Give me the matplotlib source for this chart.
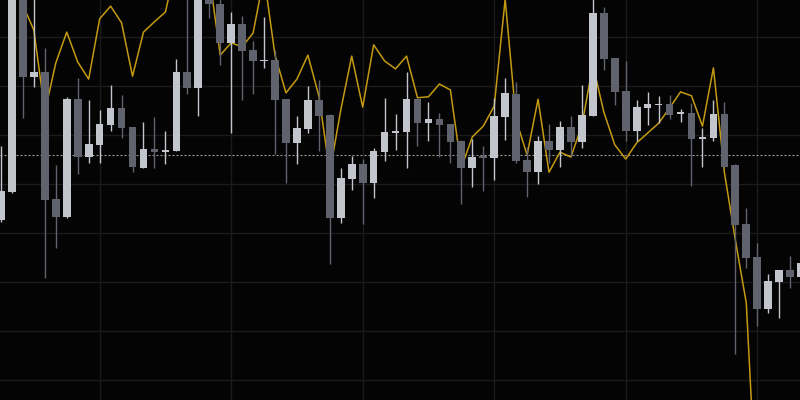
import matplotlib

matplotlib.use("Agg")
import matplotlib.pyplot as plt
import numpy as np

# OHLC values of the candles
opens = [
    132.7, 138.4, 180.0, 161.8, 162.9, 136.9, 133.3, 157.3, 145.5, 148.0,
    152.0, 155.5, 151.6, 143.3, 147.1, 146.5, 146.7, 162.9, 159.6, 179.2,
    176.7, 168.8, 172.7, 167.3, 165.1, 165.3, 157.3, 148.4, 151.2, 157.1,
    154.1, 133.1, 141.0, 144.1, 140.2, 146.5, 150.4, 150.6, 157.3, 152.4,
    153.3, 152.2, 148.8, 143.3, 145.7, 145.3, 153.7, 158.4, 144.9, 142.4,
    148.8, 146.9, 151.6, 148.6, 153.9, 174.9, 165.7, 159.0, 150.8, 155.5,
    156.1, 156.3, 154.3, 154.5, 149.2, 149.4, 154.3, 143.9, 131.8, 125.1,
    114.5, 120.0, 122.4, 121.0,
]
highs = [
    147.8, 180.4, 180.6, 178.6, 167.8, 143.9, 157.8, 161.6, 157.1, 155.1,
    160.2, 158.2, 151.7, 152.7, 153.7, 150.8, 165.5, 178.6, 179.6, 179.4,
    178.0, 175.1, 174.3, 169.2, 174.1, 167.3, 157.4, 153.9, 160.0, 161.2,
    154.2, 143.3, 145.7, 145.1, 147.3, 157.6, 154.3, 162.9, 157.4, 156.7,
    154.5, 152.3, 148.9, 149.2, 147.8, 157.6, 161.6, 160.8, 147.6, 149.8,
    152.2, 152.9, 153.9, 160.2, 178.2, 176.1, 165.8, 165.1, 157.1, 158.8,
    158.0, 158.2, 155.3, 156.5, 151.4, 157.1, 156.7, 144.0, 135.1, 128.0,
    121.6, 122.5, 125.3, 124.5,
]
lows = [
    132.2, 138.2, 153.5, 159.8, 120.8, 126.9, 133.1, 142.0, 144.3, 144.3,
    150.8, 149.4, 142.4, 143.3, 143.3, 144.1, 146.7, 158.4, 153.9, 173.9,
    164.3, 150.4, 157.1, 158.4, 163.7, 146.1, 140.2, 144.1, 150.4, 146.7,
    123.7, 132.0, 138.8, 131.8, 137.1, 144.7, 146.9, 143.3, 147.8, 148.8,
    145.5, 144.3, 135.9, 139.4, 138.6, 140.8, 149.0, 144.3, 137.3, 140.0,
    144.3, 143.5, 145.7, 147.3, 153.9, 163.3, 156.1, 148.8, 148.8, 152.0,
    152.4, 153.3, 152.7, 139.6, 143.5, 148.8, 143.4, 105.3, 122.9, 111.0,
    113.7, 112.7, 118.8, 120.4,
]
closes = [
    138.6, 180.0, 161.8, 162.9, 136.7, 133.3, 157.3, 145.5, 148.2, 152.2,
    155.5, 151.4, 143.5, 147.1, 146.5, 146.9, 162.9, 159.6, 179.2, 176.7,
    168.8, 172.7, 167.1, 165.1, 165.3, 157.1, 148.4, 151.4, 157.1, 153.9,
    133.1, 141.2, 144.1, 140.2, 146.7, 150.6, 150.8, 157.3, 152.4, 153.3,
    152.0, 148.6, 143.3, 145.5, 145.3, 153.9, 158.6, 144.7, 142.4, 148.8,
    146.9, 151.6, 148.6, 154.1, 174.9, 165.5, 158.8, 150.8, 155.7, 156.3,
    156.3, 154.1, 154.5, 149.2, 149.6, 154.3, 143.5, 131.6, 124.9, 114.5,
    120.2, 122.4, 121.0, 123.9,
]

# gold overlay series, one value per candle (partly off the visible range)
overlay = [
    185.7, 183.7, 176.5, 171.4, 154.7, 164.7, 171.0, 164.9, 161.4, 173.7,
    176.3, 172.9, 162.0, 171.0, 173.1, 175.1, 184.9, 185.7, 184.7, 182.7,
    166.3, 168.8, 168.0, 170.8, 182.4, 166.3, 158.6, 161.4, 166.3, 158.0,
    142.4, 155.1, 166.1, 155.7, 168.4, 165.1, 163.5, 166.1, 157.6, 157.8,
    160.4, 159.2, 143.3, 149.6, 151.8, 155.9, 177.7, 153.1, 145.9, 157.3,
    142.4, 146.5, 145.5, 152.0, 164.3, 154.7, 148.0, 145.1, 148.4, 150.4,
    152.4, 155.5, 158.8, 158.0, 151.8, 163.7, 142.4, 128.6, 115.7, 72.2,
    63.3, 60.0, 58.0, 57.0,
]

reference_level = 145.9
price_grid = [100, 110, 120, 130, 140, 150, 160, 170]
time_grid = [9, 21, 33, 45, 57, 69]

BG = "#040404"
UP = "#c3c5cc"
DOWN = "#60636e"
GOLD = "#c49a10"


def draw_candles(ax, o, h, l, c, width=0.7):
    """Draw candle bodies and wicks on ax.

    Parameters
    ----------
    ax : matplotlib.axes.Axes
        Target axes.
    o, h, l, c : array-like
        Open, high, low and close values.
    width : float, optional
        Body width in index units, by default 0.7
    """
    o, h, l, c = (np.asarray(v, dtype=float) for v in (o, h, l, c))
    x = np.arange(len(o))
    up = c >= o
    colors = np.where(up, UP, DOWN)
    ax.vlines(x, l, h, colors=colors, linewidth=1.0, zorder=3)
    bottom = np.minimum(o, c)
    height = np.maximum(np.abs(c - o), 0.3)
    ax.bar(x, height, width=width, bottom=bottom, color=colors,
           linewidth=0, zorder=4)


fig = plt.figure(figsize=(8, 4), dpi=100, facecolor=BG)
ax = fig.add_axes([0, 0, 1, 1])
ax.set_facecolor(BG)

for level in price_grid:
    ax.axhline(level, color="#1b1b1b", linewidth=1.0, zorder=0)
for t in time_grid:
    ax.axvline(t, color="#1b1b1b", linewidth=1.0, zorder=0)

ax.axhline(reference_level, color="#9c9c9c", linewidth=0.8,
           linestyle=(0, (1.8, 1.8)), zorder=1)

ax.plot(np.arange(len(overlay)), overlay, color=GOLD, linewidth=1.1, zorder=2)
draw_candles(ax, opens, highs, lows, closes)

ax.set_xlim(-0.091, 72.9)
ax.set_ylim(95.92, 177.55)
ax.axis("off")

fig.savefig("out.png", dpi=100, facecolor=BG)
